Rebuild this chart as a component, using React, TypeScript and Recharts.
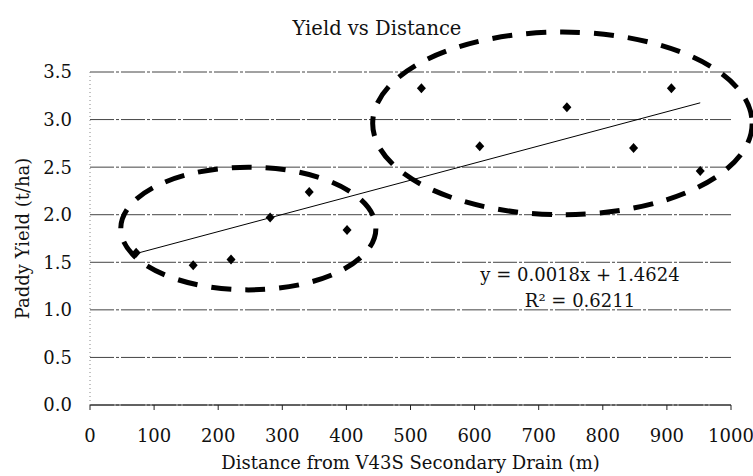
import { ScatterChart, Scatter, XAxis, YAxis, CartesianGrid, ReferenceLine, ReferenceArea } from 'recharts';

// field samples
const distance = [72, 161, 220, 281, 342, 401, 517, 608, 744, 848, 907, 952];
const paddyYield = [1.6, 1.47, 1.53, 1.97, 2.24, 1.84, 3.33, 2.72, 3.13, 2.7, 3.33, 2.46];

const xTicks = [0, 100, 200, 300, 400, 500, 600, 700, 800, 900, 1000];
const yTicks = [0, 0.5, 1, 1.5, 2, 2.5, 3, 3.5];

// linear trend shown on the chart
const slope = 0.0018;
const intercept = 1.4624;
const rSquared = 0.6211;

// hand-drawn circles round the two groups (data units)
const nearGroup = { x1: 48, x2: 446, y1: 1.21, y2: 2.5 };
const farGroup = { x1: 441, x2: 1033, y1: 2.0, y2: 3.92 };

const points = distance.map((d, i) => ({ distance: d, yield: paddyYield[i] }));
const xMin = Math.min(...distance);
const xMax = Math.max(...distance);

const FONT = '"DejaVu Serif", serif';

function Diamond(props: any) {
  const { cx, cy } = props;
  return (
    <polygon
      points={`${cx},${cy - 5} ${cx + 4.5},${cy} ${cx},${cy + 5} ${cx - 4.5},${cy}`}
      fill="#000"
    />
  );
}

function DashedEllipse(props: any) {
  const { x, y, width, height } = props;
  return (
    <ellipse
      cx={x + width / 2}
      cy={y + height / 2}
      rx={Math.abs(width) / 2}
      ry={Math.abs(height) / 2}
      fill="none"
      stroke="#000"
      strokeWidth={5}
      strokeDasharray="20 14"
    />
  );
}

export default function App() {
  return (
    <div style={{ position: 'absolute', left: 0, top: 0, width: 753, height: 476, background: '#fff' }}>
      <ScatterChart width={753} height={476} margin={{ top: 72, right: 22, bottom: 0, left: 0 }}>
        <CartesianGrid vertical={false} stroke="#444" strokeDasharray="24 2 3 2" />
        <XAxis
          type="number"
          dataKey="distance"
          domain={[0, 1000]}
          ticks={xTicks}
          height={71}
          tickSize={5}
          tickMargin={19}
          stroke="#222"
          tick={{ fill: '#111', fontSize: 18, fontFamily: FONT }}
          label={{ value: 'Distance from V43S Secondary Drain (m)', position: 'insideBottom', offset: 7, fill: '#111', fontSize: 18, fontFamily: FONT }}
        />
        <YAxis
          type="number"
          dataKey="yield"
          domain={[0, 3.5]}
          ticks={yTicks}
          width={90}
          tickLine={false}
          tickSize={0}
          tickMargin={18}
          axisLine={{ stroke: '#888', strokeDasharray: '1 3' }}
          tickFormatter={(v: number) => v.toFixed(1)}
          tick={{ fill: '#111', fontSize: 18, fontFamily: FONT }}
          label={{ value: 'Paddy Yield (t/ha)', angle: -90, position: 'insideLeft', offset: 23, fill: '#111', fontSize: 18, fontFamily: FONT, style: { textAnchor: 'middle' } }}
        />
        <ReferenceArea {...nearGroup} ifOverflow="visible" shape={DashedEllipse} />
        <ReferenceArea {...farGroup} ifOverflow="visible" shape={DashedEllipse} />
        <ReferenceLine
          segment={[
            { x: xMin, y: slope * xMin + intercept },
            { x: xMax, y: slope * xMax + intercept },
          ]}
          stroke="#000"
          strokeWidth={1}
          ifOverflow="visible"
        />
        <Scatter data={points} shape={Diamond} isAnimationActive={false} />
      </ScatterChart>
      <svg width={753} height={476} style={{ position: 'absolute', left: 0, top: 0, pointerEvents: 'none' }}>
        <text x={377} y={35} textAnchor="middle" fontFamily={FONT} fontSize={19.5} fill="#111">
          Yield vs Distance
        </text>
        <text x={580} y={281} textAnchor="middle" fontFamily={FONT} fontSize={18} fill="#111">
          {`y = ${slope}x + ${intercept}`}
        </text>
        <text x={580} y={307} textAnchor="middle" fontFamily={FONT} fontSize={18} fill="#111">
          R² = {rSquared}
        </text>
      </svg>
    </div>
  );
}
